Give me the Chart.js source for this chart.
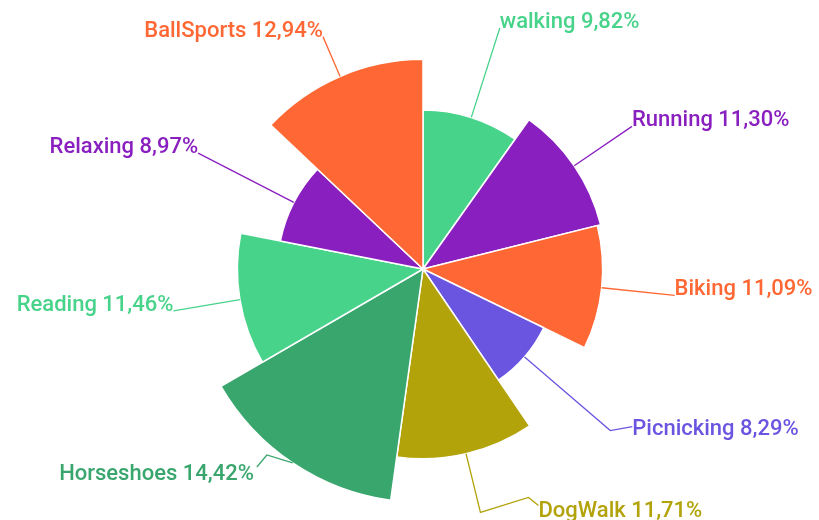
<!DOCTYPE html>
<html>
<head>
<meta charset="utf-8">
<script src="https://cdn.jsdelivr.net/npm/chart.js@4.4.1/dist/chart.umd.min.js"></script>
<style>
	html, body { margin: 0; padding: 0; background: #fff; }
	#wrap { width: 819px; height: 520px; }
</style>
</head>
<body>
<div id="wrap"><canvas id="myChart" width="819" height="520"></canvas></div>
<script>
var _labels = ['walking', 'Running', 'Biking', 'Picnicking', 'DogWalk', 'Horseshoes', 'Reading', 'Relaxing', 'BallSports'];
var _values = [9.82, 11.30, 11.09, 8.29, 11.71, 14.42, 11.46, 8.97, 12.94];
var _colors = ['#48d38b', '#8a1fbf', '#ff6834', '#6a55e0', '#b2a30b', '#39a66e', '#48d38b', '#8a1fbf', '#ff6834'];
var _total = _values.reduce(function(a, b) { return a + b; }, 0);

// leader line routing for the crowded bottom labels (offsets from the elbow point)
var _routes = {
	3: { path: [[-4, -4], [18, -8]], text: [18, 0] },
	4: { path: [[0, -3], [48, -18], [58, -10]], text: [58, 2] },
	5: { path: [[-15, -24], [-25, -12]], text: [-28, 1] }
};

function fmtPct(v) {
	return v.toFixed(2).replace('.', ',') + '%';
}

var outerLabels = {
	id: 'outerLabels',
	afterDatasetsDraw: function(chart) {
		var ctx = chart.ctx;
		var scale = chart.scales.r;
		var meta = chart.getDatasetMeta(0);
		var elbowR = scale.drawingArea + 10;
		ctx.save();
		ctx.font = '500 22px Roboto';
		ctx.lineWidth = 1.3;
		meta.data.forEach(function(arc, i) {
			var mid = (arc.startAngle + arc.endAngle) / 2;
			var cx = arc.x, cy = arc.y;
			var p1 = { x: cx + Math.cos(mid) * arc.outerRadius, y: cy + Math.sin(mid) * arc.outerRadius };
			var elbow = { x: cx + Math.cos(mid) * elbowR, y: cy + Math.sin(mid) * elbowR };
			var route = _routes[i];
			var pts = [p1];
			var tx = elbow.x, ty = elbow.y;
			if (route) {
				route.path.forEach(function(o) { pts.push({ x: elbow.x + o[0], y: elbow.y + o[1] }); });
				tx = elbow.x + route.text[0];
				ty = elbow.y + route.text[1];
			} else {
				pts.push(elbow);
			}
			ctx.strokeStyle = _colors[i];
			ctx.beginPath();
			ctx.moveTo(pts[0].x, pts[0].y);
			for (var k = 1; k < pts.length; k++) ctx.lineTo(pts[k].x, pts[k].y);
			ctx.stroke();

			ctx.fillStyle = _colors[i];
			ctx.textBaseline = 'alphabetic';
			ctx.textAlign = Math.cos(mid) >= 0 ? 'left' : 'right';
			ctx.fillText(_labels[i] + ' ' + fmtPct(_values[i]), tx, ty);
		});
		ctx.restore();
	}
};

var _config = {
	type: 'polarArea',
	data: {
		labels: _labels,
		datasets: [{
			data: _values,
			backgroundColor: _colors,
			borderColor: '#ffffff',
			borderWidth: 1.5,
			// slice angle follows the share as well as the radius
			angle: function(c) { return _values[c.dataIndex] / _total * 360; }
		}]
	},
	options: {
		responsive: false,
		animation: false,
		layout: {
			padding: { top: 26, bottom: 8, left: 27, right: 0 }
		},
		plugins: {
			legend: { display: false },
			tooltip: { enabled: true }
		},
		scales: {
			r: {
				min: 0,
				max: 15,
				ticks: { display: false },
				grid: { display: false },
				angleLines: { display: false },
				pointLabels: { display: false }
			}
		}
	},
	plugins: [outerLabels]
};

var myChart = new Chart(document.getElementById('myChart'), _config);
</script>
</body>
</html>
